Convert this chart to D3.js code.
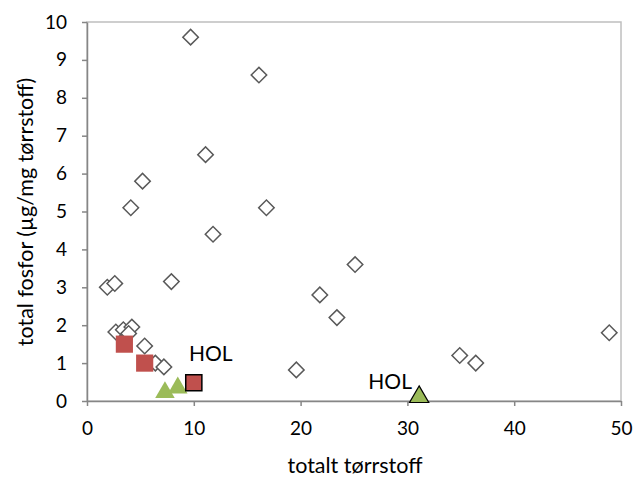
<!DOCTYPE html>
<html>
<head>
<meta charset="utf-8">
<script src="https://cdn.jsdelivr.net/npm/d3@7/dist/d3.min.js"></script>
<style>
  body { margin: 0; background: #fff; }
  svg { display: block; }
  text { font-family: Lato, "Noto Sans", sans-serif; fill: #000; }
</style>
</head>
<body>
<svg id="chart" width="635" height="478"></svg>
<script>
// Data
const diamondX = [9.7, 16.1, 11.1, 5.2, 16.8, 4.1, 11.8, 25.1, 1.9, 2.6, 7.9, 21.8, 23.4, 2.7, 3.4, 4.2, 3.9, 5.4, 6.4, 7.2, 19.6, 34.9, 36.4, 48.9];
const diamondY = [9.6, 8.6, 6.5, 5.8, 5.1, 5.1, 4.4, 3.6, 3.0, 3.1, 3.15, 2.8, 2.2, 1.82, 1.88, 1.95, 1.78, 1.45, 1.0, 0.9, 0.82, 1.2, 1.0, 1.8];
const squareX = [3.5, 5.4];
const squareY = [1.5, 1.0];
const triangleX = [7.3, 8.5];
const triangleY = [0.2, 0.32];
const holSquare = { x: 10.0, y: 0.48, label: "HOL" };
const holTriangle = { x: 31.1, y: 0.08, label: "HOL" };
const xTicks = [0, 10, 20, 30, 40, 50];
const yTicks = [0, 1, 2, 3, 4, 5, 6, 7, 8, 9, 10];
const xTitle = "totalt tørrstoff";
const yTitle = "total fosfor (µg/mg tørrstoff)";

const svg = d3.select("#chart");
const mL = 87, mR = 621, mT = 22, mB = 401;
const x = d3.scaleLinear().domain([0, 50]).range([mL, mR]);
const y = d3.scaleLinear().domain([0, 10]).range([mB, mT]);

// plot border
svg.append("rect").attr("x", mL).attr("y", mT).attr("width", mR - mL).attr("height", mB - mT)
  .attr("fill", "none").attr("stroke", "#BFBFBF").attr("stroke-width", 1.5);

// axes
const xAxis = svg.append("g").attr("transform", `translate(0,${mB})`)
  .call(d3.axisBottom(x).tickValues(xTicks).tickSize(5).tickSizeOuter(0).tickPadding(16));
const yAxis = svg.append("g").attr("transform", `translate(${mL},0)`)
  .call(d3.axisLeft(y).tickValues(yTicks).tickSize(5).tickSizeOuter(0).tickPadding(15));
[xAxis, yAxis].forEach(a => {
  a.select(".domain").attr("stroke", "#868686").attr("stroke-width", 1.5);
  a.selectAll(".tick line").attr("stroke", "#868686").attr("stroke-width", 1.5);
  a.selectAll(".tick text").attr("font-size", 19).attr("font-family", "Lato, 'Noto Sans', sans-serif").attr("fill", "#000");
});

// titles
svg.append("text").attr("x", 355).attr("y", 473).attr("text-anchor", "middle")
  .attr("font-size", 21.5).text(xTitle);
svg.append("text").attr("transform", `translate(25,212) rotate(-90)`)
  .attr("text-anchor", "middle").attr("dy", "0.35em").attr("font-size", 21.5).text(yTitle);

// diamonds
const dia = d3.symbol().type(d3.symbolSquare).size(120);
svg.append("g").selectAll("path").data(diamondX.map((d, i) => [d, diamondY[i]])).join("path")
  .attr("d", dia)
  .attr("transform", d => `translate(${x(d[0])},${y(d[1])}) rotate(45)`)
  .attr("fill", "#fff").attr("stroke", "#595959").attr("stroke-width", 1.5);

// red squares
const sq = d3.symbol().type(d3.symbolSquare).size(295);
svg.append("g").selectAll("path").data(squareX.map((d, i) => [d, squareY[i]])).join("path")
  .attr("d", sq)
  .attr("transform", d => `translate(${x(d[0])},${y(d[1])})`)
  .attr("fill", "#C0504D");

// green triangles
const tri = d3.symbol().type(d3.symbolTriangle).size(165);
svg.append("g").selectAll("path").data(triangleX.map((d, i) => [d, triangleY[i]])).join("path")
  .attr("d", tri)
  .attr("transform", d => `translate(${x(d[0])},${y(d[1]) - 1})`)
  .attr("fill", "#9BBB59");

// HOL square
svg.append("path").attr("d", d3.symbol().type(d3.symbolSquare).size(260))
  .attr("transform", `translate(${x(holSquare.x)},${y(holSquare.y)})`)
  .attr("fill", "#C0504D").attr("stroke", "#000").attr("stroke-width", 1.5);
svg.append("text").attr("x", x(holSquare.x) + 17).attr("y", y(holSquare.y) - 22)
  .attr("text-anchor", "middle").attr("font-size", 21).text(holSquare.label);

// HOL triangle
svg.append("path").attr("d", d3.symbol().type(d3.symbolTriangle).size(160))
  .attr("transform", `translate(${x(holTriangle.x)},${y(holTriangle.y) - 1})`)
  .attr("fill", "#9BBB59").attr("stroke", "#000").attr("stroke-width", 1.2);
svg.append("text").attr("x", x(holTriangle.x) - 29).attr("y", y(holTriangle.y) - 9)
  .attr("text-anchor", "middle").attr("font-size", 21).text(holTriangle.label);
</script>
</body>
</html>
